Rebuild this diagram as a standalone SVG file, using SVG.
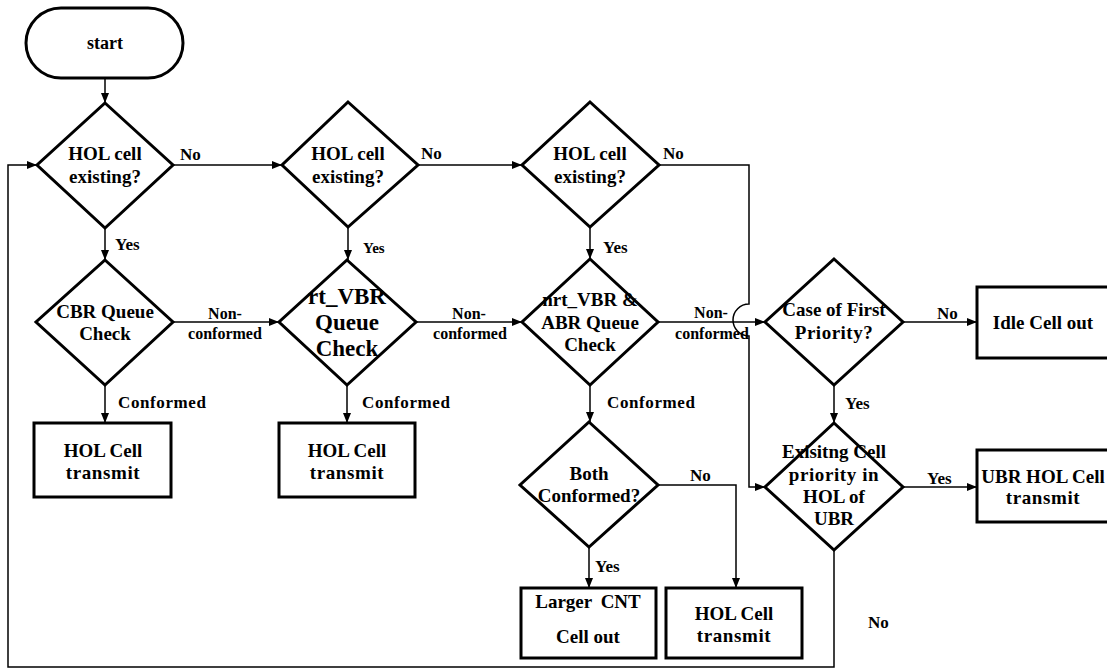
<svg xmlns="http://www.w3.org/2000/svg" width="1107" height="671" viewBox="0 0 1107 671">
  <defs>
    <marker id="arrow" viewBox="0 0 10 8" refX="10" refY="4" markerWidth="10" markerHeight="8" markerUnits="userSpaceOnUse" orient="auto">
      <path d="M0,0 L10,4 L0,8 z" fill="#000"/>
    </marker>
    <style>
      .shape { fill: #fff; stroke: #000; stroke-width: 3; stroke-linejoin: miter; }
      .wire { fill: none; stroke: #000; stroke-width: 1.5; }
      .arr { marker-end: url(#arrow); }
      text { font-family: "Liberation Serif", "Times New Roman", serif; font-weight: bold; fill: #000; }
      .t { font-size: 19px; text-anchor: middle; }
      .big { font-size: 23px; text-anchor: middle; }
      .lbl { font-size: 17px; }
      .sm { font-size: 16px; text-anchor: middle; }
    </style>
  </defs>
  <rect width="1107" height="671" fill="#fff"/>

  <!-- connectors -->
  <g id="connectors">
    <path class="wire arr" d="M105,78 V103"/>
    <path class="wire arr" d="M173,165 H282"/>
    <path class="wire arr" d="M418,165 H522"/>
    <path class="wire arr" d="M659,165 H749 V304 A16,16 0 0 0 749,336 V487 H765"/>
    <path class="wire arr" d="M105,228 V260"/>
    <path class="wire arr" d="M348,227 V260"/>
    <path class="wire arr" d="M590,227 V259"/>
    <path class="wire arr" d="M173,322 H279"/>
    <path class="wire arr" d="M416,322 H522"/>
    <path class="wire arr" d="M658,322 H765"/>
    <path class="wire arr" d="M105,385 V423"/>
    <path class="wire arr" d="M347,385 V423"/>
    <path class="wire arr" d="M590,385 V422"/>
    <path class="wire arr" d="M903,322 H977"/>
    <path class="wire arr" d="M834,385 V423"/>
    <path class="wire arr" d="M903,487 H977"/>
    <path class="wire arr" d="M658,485 H736 V588"/>
    <path class="wire arr" d="M589,547 V588"/>
    <path class="wire arr" d="M834,550 V667 H8 V165 H37"/>
  </g>

  <!-- connector labels -->
  <g id="labels">
    <text class="lbl" x="180" y="160">No</text>
    <text class="lbl" x="421" y="159">No</text>
    <text class="lbl" x="663" y="159">No</text>
    <text class="lbl" x="115" y="250">Yes</text>
    <text class="lbl" x="363" y="253" style="font-size:15px">Yes</text>
    <text class="lbl" x="603" y="253">Yes</text>
    <text class="sm" x="225" y="319">Non-</text>
    <text class="sm" x="225" y="339">conformed</text>
    <text class="sm" x="469" y="319">Non-</text>
    <text class="sm" x="470" y="339">conformed</text>
    <text class="sm" x="711" y="318">Non-</text>
    <text class="sm" x="712" y="339">conformed</text>
    <text class="lbl" x="118" y="408" style="letter-spacing:0.6px">Conformed</text>
    <text class="lbl" x="362" y="408" style="letter-spacing:0.6px">Conformed</text>
    <text class="lbl" x="607" y="408" style="letter-spacing:0.6px">Conformed</text>
    <text class="lbl" x="937" y="319">No</text>
    <text class="lbl" x="845" y="409">Yes</text>
    <text class="lbl" x="927" y="484">Yes</text>
    <text class="lbl" x="690" y="481">No</text>
    <text class="lbl" x="595" y="572">Yes</text>
    <text class="lbl" x="868" y="628">No</text>
  </g>

  <!-- start terminal -->
  <g id="start">
    <rect class="shape" x="26" y="8" width="157" height="70" rx="35" ry="35"/>
    <text class="t" x="105" y="49" style="font-size:18px">start</text>
  </g>

  <!-- first row: HOL cell existence checks -->
  <g id="hol1">
    <polygon class="shape" points="105,103 173,165 105,228 37,165"/>
    <text class="t" x="105" y="160">HOL cell</text>
    <text class="t" x="105" y="183">existing?</text>
  </g>
  <g id="hol2">
    <polygon class="shape" points="348,102 418,165 348,227 282,165"/>
    <text class="t" x="348" y="160">HOL cell</text>
    <text class="t" x="348" y="183">existing?</text>
  </g>
  <g id="hol3">
    <polygon class="shape" points="590,102 659,165 590,227 522,165"/>
    <text class="t" x="590" y="160">HOL cell</text>
    <text class="t" x="590" y="183">existing?</text>
  </g>

  <!-- second row: queue checks -->
  <g id="cbr">
    <polygon class="shape" points="105,260 173,322 105,385 36,322"/>
    <text class="t" x="105" y="318">CBR Queue</text>
    <text class="t" x="105" y="340">Check</text>
  </g>
  <g id="rtvbr">
    <polygon class="shape" points="347,260 416,322 347,385 279,322"/>
    <text class="big" x="347" y="304">rt_VBR</text>
    <text class="big" x="347" y="330">Queue</text>
    <text class="big" x="347" y="356">Check</text>
  </g>
  <g id="nrtvbr">
    <polygon class="shape" points="590,259 658,322 590,385 522,322"/>
    <text class="t" x="590" y="306">nrt_VBR &amp;</text>
    <text class="t" x="590" y="329">ABR Queue</text>
    <text class="t" x="590" y="351">Check</text>
  </g>
  <g id="firstprio">
    <polygon class="shape" points="834,259 903,322 834,385 765,322"/>
    <text class="t" x="834" y="316">Case of First</text>
    <text class="t" x="834" y="339" style="letter-spacing:0.5px">Priority?</text>
  </g>
  <g id="idle">
    <rect class="shape" x="977" y="287" width="132" height="71"/>
    <text class="t" x="1043" y="329">Idle Cell out</text>
  </g>

  <!-- transmit boxes -->
  <g id="tx1">
    <rect class="shape" x="34" y="423" width="137" height="74"/>
    <text class="t" x="103" y="457">HOL Cell</text>
    <text class="t" x="103" y="479" style="letter-spacing:0.6px">transmit</text>
  </g>
  <g id="tx2">
    <rect class="shape" x="279" y="423" width="136" height="74"/>
    <text class="t" x="347" y="457">HOL Cell</text>
    <text class="t" x="347" y="479" style="letter-spacing:0.6px">transmit</text>
  </g>

  <!-- both conformed branch -->
  <g id="both">
    <polygon class="shape" points="589,422 658,485 589,547 520,485"/>
    <text class="t" x="589" y="480">Both</text>
    <text class="t" x="589" y="502">Conformed?</text>
  </g>
  <g id="larger">
    <rect class="shape" x="521" y="588" width="135" height="70"/>
    <text class="t" x="588" y="608" style="word-spacing:4px">Larger CNT</text>
    <text class="t" x="588" y="643">Cell out</text>
  </g>
  <g id="tx3">
    <rect class="shape" x="666" y="588" width="136" height="70"/>
    <text class="t" x="734" y="620">HOL Cell</text>
    <text class="t" x="734" y="642" style="letter-spacing:0.6px">transmit</text>
  </g>

  <!-- UBR branch -->
  <g id="ubrcheck">
    <polygon class="shape" points="834,423 903,487 834,550 765,487"/>
    <text class="t" x="834" y="458">Exisitng Cell</text>
    <text class="t" x="834" y="481" style="letter-spacing:0.6px">priority in</text>
    <text class="t" x="834" y="503">HOL of</text>
    <text class="t" x="834" y="525">UBR</text>
  </g>
  <g id="ubrtx">
    <rect class="shape" x="977" y="450" width="132" height="72"/>
    <text class="t" x="1043" y="483">UBR HOL Cell</text>
    <text class="t" x="1043" y="504" style="letter-spacing:0.6px">transmit</text>
  </g>
</svg>
